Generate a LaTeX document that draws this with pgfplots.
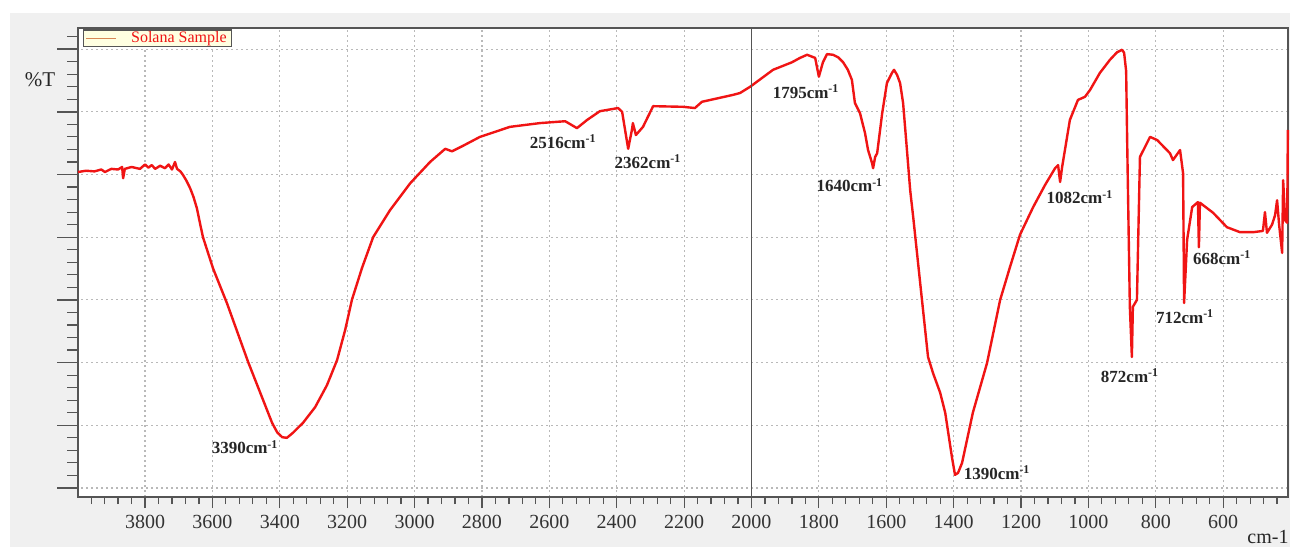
\documentclass[border=0pt]{standalone}
\usepackage{fontspec}
\setmainfont{Liberation Serif}
\usepackage{pgfplots}
\pgfplotsset{compat=1.18}
\definecolor{solred}{RGB}{240,20,20}
\definecolor{bgpanel}{RGB}{240,240,240}
\definecolor{axgray}{RGB}{85,85,85}
\definecolor{gridgray}{RGB}{185,185,185}
\definecolor{legfill}{RGB}{255,255,225}
\definecolor{legline}{RGB}{215,135,85}
\begin{document}
\begin{tikzpicture}
\fill[white] (0,0) rectangle (645pt,273.5pt);
\fill[bgpanel] (5pt,0) rectangle (645pt,267pt);
\path[use as bounding box] (0,0) rectangle (645pt,273.5pt);
\begin{axis}[
  at={(39pt,25pt)}, anchor=south west,
  scale only axis, width=605pt, height=234.5pt,
  x dir=reverse, xmin=407.6, xmax=3999, ymin=-1.44, ymax=73.37,
  clip=false,
  axis background/.style={fill=white},
  axis line style={axgray, line width=0.8pt},
  xtick={600,800,...,3800}, minor xtick={440,480,...,3960},
  ytick={0,10,...,70}, yticklabels={}, ytick style={draw=none},
  xtick style={axgray, line width=0.6pt},
  tick pos=left, tick align=outside,
  major tick length=5.5pt, minor tick length=3.5pt,
  xmajorgrids, ymajorgrids,
  major grid style={gridgray, line width=0.6pt, dash pattern=on 1pt off 1.5pt},
  /pgf/number format/1000 sep={},
  /pgf/number format/assume math mode=true,
  xticklabel style={font=\fontsize{10}{12}\selectfont, text=black!80},
  legend style={at={(0.004,0.997)}, anchor=north west, draw=axgray, line width=0.6pt,
    fill=legfill, font=\fontsize{8}{8.5}\selectfont, text=solred,
    inner xsep=1pt, inner ysep=0pt, row sep=0pt,
    nodes={inner ysep=0.6pt, inner xsep=1.5pt}},
  legend image code/.code={\draw[draw=legline, line width=0.7pt] (0pt,0pt) -- (15pt,0pt); \path[draw=none, fill=none] (0pt,-0.1pt) rectangle (21pt,0.1pt);},
]
\addplot[solred, line width=1.2pt, line join=round] table {
x y
3999 50.4
3975 50.6
3950 50.5
3930 50.8
3919 50.4
3900 50.9
3880 50.8
3868 51.2
3865 49.4
3860 50.9
3840 51.2
3815 50.9
3800 51.6
3790 51.1
3780 51.5
3770 50.9
3755 51.4
3741 51.0
3730 51.6
3720 50.8
3711 52.0
3705 50.9
3695 50.5
3687 49.9
3678 49.1
3666 47.8
3656 46.4
3646 44.6
3636 42.0
3628 40.0
3613 37.5
3598 35.0
3557 29.5
3494 20.1
3423 10.4
3408 8.9
3393 8.1
3379 8.0
3361 8.8
3331 10.4
3295 12.9
3260 16.4
3230 20.4
3206 25.2
3186 30.0
3156 35.1
3123 40.0
3073 44.3
3013 48.6
2954 52.0
2909 54.1
2889 53.7
2859 54.5
2806 56.0
2717 57.6
2628 58.2
2553 58.5
2518 57.4
2488 58.7
2450 60.1
2396 60.6
2384 60.0
2366 54.1
2355 57.1
2352 58.2
2343 56.3
2322 57.6
2292 60.9
2203 60.8
2168 60.6
2147 61.6
2055 62.7
2034 63.0
2004 64.0
1936 66.7
1880 67.9
1856 68.6
1835 69.1
1811 68.6
1800 65.6
1788 67.9
1776 69.2
1758 69.1
1743 68.7
1728 67.9
1714 66.7
1702 65.1
1693 61.4
1678 59.8
1663 56.6
1654 53.9
1642 51.8
1639 51.0
1633 52.8
1627 53.4
1612 59.8
1598 64.6
1583 66.2
1577 66.7
1568 65.9
1559 64.6
1550 61.4
1541 55.5
1529 47.5
1520 43.2
1494 30.0
1476 20.9
1461 18.3
1440 15.2
1425 12.0
1405 4.9
1396 2.1
1387 2.4
1375 4.0
1343 12.0
1301 19.9
1262 30.0
1233 35.2
1203 40.4
1164 44.8
1129 48.3
1099 51.0
1090 51.5
1084 48.8
1078 51.2
1055 58.7
1031 61.9
1010 62.4
995 63.5
966 66.2
936 68.3
915 69.5
900 69.9
894 69.4
888 66.5
885 55.5
877 28.9
871 20.9
868 28.9
856 30.0
847 52.8
817 56.0
796 55.5
758 53.4
749 52.3
728 53.9
719 50.2
716 29.5
707 39.6
692 44.8
675 45.6
672 38.4
669 45.5
630 43.9
589 41.6
550 40.8
511 40.8
482 41.0
476 44.0
470 40.7
455 42.0
446 43.5
440 45.9
434 42.0
425 37.5
422 49.1
416 42.7
410 42.3
408 57.1
};
\addlegendentry{Solana Sample}
\draw[axgray, line width=0.7pt] (axis cs:2000,-1.44) -- (axis cs:2000,73.37);
\pgfplotsinvokeforeach{0,2,...,72}{\draw[axgray, line width=0.6pt] (axis cs:3999,#1) -- ++(-5.5pt,0pt);}
\pgfplotsinvokeforeach{0,10,...,70}{\draw[axgray, line width=0.7pt] (axis cs:3999,#1) -- ++(-10.5pt,0pt);}
\begin{scope}[every node/.style={font=\bfseries\fontsize{8.5}{10}\selectfont, text=black!85}]
\node at (axis cs:3503,6.5) {3390cm\textsuperscript{-1}};
\node at (axis cs:2559,55.2) {2516cm\textsuperscript{-1}};
\node at (axis cs:2307,52.0) {2362cm\textsuperscript{-1}};
\node at (axis cs:1838,63.2) {1795cm\textsuperscript{-1}};
\node at (axis cs:1708,48.3) {1640cm\textsuperscript{-1}};
\node at (axis cs:1271,2.4) {1390cm\textsuperscript{-1}};
\node at (axis cs:1025,46.4) {1082cm\textsuperscript{-1}};
\node at (axis cs:876.5,17.9) {872cm\textsuperscript{-1}};
\node at (axis cs:713,27.3) {712cm\textsuperscript{-1}};
\node at (axis cs:603,36.7) {668cm\textsuperscript{-1}};
\end{scope}
\end{axis}
\node[font=\fontsize{10.5}{12}\selectfont, text=black!85] at (20pt,233.5pt) {\%T};
\node[font=\fontsize{10}{12}\selectfont, text=black!85, anchor=base] at (634pt,1.8pt) {cm-1};
\end{tikzpicture}
\end{document}
